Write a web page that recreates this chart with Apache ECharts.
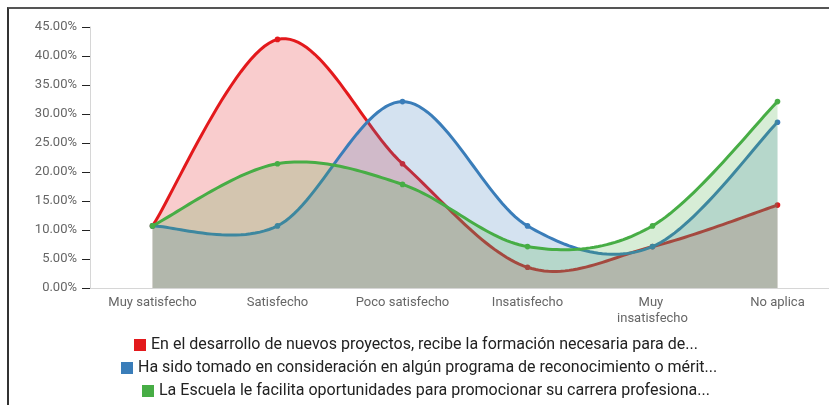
<!DOCTYPE html>
<html>
<head>
<meta charset="utf-8">
<script src="https://cdn.jsdelivr.net/npm/echarts@6/dist/echarts.min.js"></script>
<style>
  html, body { margin: 0; padding: 0; background: #fff; overflow: hidden; }
  #frame { position: absolute; left: 7px; top: 7px; width: 840px; height: 420px;
           border-left: 2px solid #333; border-top: 2px solid #555; }
  #chart { position: absolute; left: 0; top: 0; width: 842px; height: 405px; }
</style>
</head>
<body>
<div id="frame"></div>
<div id="chart"></div>
<script>
// categorías del eje x
var categories = ['Muy satisfecho', 'Satisfecho', 'Poco satisfecho', 'Insatisfecho', 'Muy insatisfecho', 'No aplica']
// nombres de las series (tal como aparecen, recortados)
var names = [
  'En el desarrollo de nuevos proyectos, recibe la formación necesaria para de...',
  'Ha sido tomado en consideración en algún programa de reconocimiento o mérit...',
  'La Escuela le facilita oportunidades para promocionar su carrera profesiona...'
]
// porcentajes
var formacion = [10.71, 42.86, 21.43, 3.57, 7.14, 14.29]
var reconocimiento = [10.71, 10.71, 32.14, 10.71, 7.14, 28.57]
var carrera = [10.71, 21.43, 17.86, 7.14, 10.71, 32.14]
var colors = ['#e3191c', '#3a7db9', '#47ad45']

var chart = echarts.init(document.getElementById('chart'))

// curva cardinal (catmull-rom) sobre las coordenadas que da el eje
function curva(pts) {
  var out = [pts[0]]
  for (var i = 0; i < pts.length - 1; i++) {
    var p0 = pts[i - 1] || pts[i], p1 = pts[i], p2 = pts[i + 1], p3 = pts[i + 2] || pts[i + 1]
    var c1 = [p1[0] + (p2[0] - p0[0]) / 6, p1[1] + (p2[1] - p0[1]) / 6]
    var c2 = [p2[0] - (p3[0] - p1[0]) / 6, p2[1] - (p3[1] - p1[1]) / 6]
    for (var k = 1; k <= 30; k++) {
      var t = k / 30, u = 1 - t
      out.push([
        u * u * u * p1[0] + 3 * u * u * t * c1[0] + 3 * u * t * t * c2[0] + t * t * t * p2[0],
        u * u * u * p1[1] + 3 * u * u * t * c1[1] + 3 * u * t * t * c2[1] + t * t * t * p2[1]
      ])
    }
  }
  return out
}

function serie(name, data, color) {
  return {
    name: name,
    type: 'custom',
    itemStyle: { color: color },
    data: data.map(function (v, i) { return [i, v] }),
    encode: { x: 0, y: 1 },
    renderItem: function (params, api) {
      var children = []
      if (params.dataIndex === 0) {
        var pts = data.map(function (v, i) { return api.coord([i, v]) })
        var base = api.coord([0, 0])[1]
        var line = curva(pts)
        var area = line.concat([[pts[pts.length - 1][0], base], [pts[0][0], base]])
        children.push({ type: 'polygon', shape: { points: area }, style: { fill: color, opacity: 0.22 } })
        children.push({ type: 'polyline', shape: { points: line }, style: { stroke: color, lineWidth: 3, fill: null } })
      }
      var p = api.coord([api.value(0), api.value(1)])
      children.push({ type: 'circle', shape: { cx: p[0], cy: p[1], r: 2.8 }, style: { fill: color } })
      return { type: 'group', children: children }
    }
  }
}

function leyenda(name, left, top) {
  return {
    data: [name],
    left: left,
    top: top,
    icon: 'rect',
    itemWidth: 12,
    itemHeight: 12,
    itemGap: 8,
    textStyle: { color: '#222', fontSize: 16, fontFamily: 'Roboto' }
  }
}

chart.setOption({
  animation: false,
  color: colors,
  textStyle: { fontFamily: 'Roboto' },
  grid: { left: 90, right: 2, top: 27, bottom: 117 },
  legend: [leyenda(names[0], 129, 332), leyenda(names[1], 116, 355), leyenda(names[2], 137, 378)],
  xAxis: {
    type: 'category',
    data: categories,
    boundaryGap: true,
    axisLine: { lineStyle: { color: '#d6d6d6' } },
    axisTick: { lineStyle: { color: '#333' }, length: 6 },
    axisLabel: { color: '#666', fontSize: 13, width: 96, overflow: 'break', lineHeight: 16, margin: 7, interval: 0 }
  },
  yAxis: {
    type: 'value',
    min: 0,
    max: 45,
    interval: 5,
    axisLine: { show: true, lineStyle: { color: '#d6d6d6' } },
    axisTick: { show: true, lineStyle: { color: '#222' }, length: 8 },
    splitLine: { show: false },
    axisLabel: { color: '#666', fontSize: 13, margin: 13, formatter: function (v) { return v.toFixed(2) + '%' } }
  },
  series: [
    serie(names[0], formacion, colors[0]),
    serie(names[1], reconocimiento, colors[1]),
    serie(names[2], carrera, colors[2])
  ]
})
</script>
</body>
</html>
